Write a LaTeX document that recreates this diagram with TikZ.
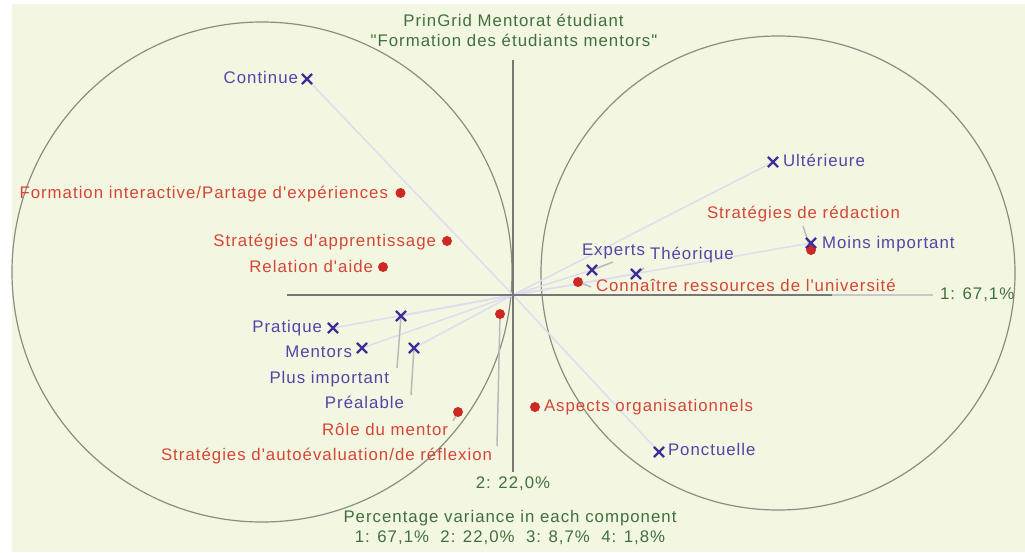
\documentclass[tikz,border=0pt]{standalone}
\usepackage{fontspec}
\newfontfamily\labf{Liberation Sans}[LetterSpace=6]
\usetikzlibrary{shapes.misc}
\definecolor{bg}{RGB}{243,246,225}
\definecolor{ink}{RGB}{64,112,64}
\definecolor{bluet}{RGB}{84,68,168}
\definecolor{bluem}{RGB}{62,48,150}
\definecolor{redt}{RGB}{212,70,54}
\definecolor{redm}{RGB}{205,40,35}
\definecolor{axisc}{RGB}{118,118,118}
\definecolor{axisl}{RGB}{200,200,200}
\definecolor{circc}{RGB}{140,140,134}
\definecolor{vecc}{RGB}{220,222,238}
\definecolor{leadc}{RGB}{185,185,185}
\begin{document}
\begin{tikzpicture}[x=1pt,y=-1pt,
  txt/.style={inner sep=0pt, outer sep=0pt, font=\labf\fontsize{16.8}{18}\selectfont},
  bl/.style={txt, text=bluet},
  rd/.style={txt, text=redt},
  gr/.style={txt, text=ink},
  xm/.style={draw=bluem, cross out, line width=2.2pt, minimum size=8pt, inner sep=0pt},
  dm/.style={circle, fill=redm, minimum size=10pt, inner sep=0pt},
  vec/.style={draw=vecc, line width=1.5pt},
  lead/.style={draw=leadc, line width=1.5pt},
  axisd/.style={draw=axisc, line width=2pt},
  axisx/.style={draw=axisl, line width=2pt},
  circ/.style={draw=circc, line width=1.2pt}]
\useasboundingbox (0,0) rectangle (1025,552);
\fill[white] (0,0) rectangle (1025,552);
\fill[bg] (12,4) rectangle (1025,552);
% circles
\draw[circ] (262,272) circle[radius=250pt];
\draw[circ] (778,273) circle[radius=237pt];
% positions
\coordinate (O) at (513,295);
\coordinate (cont) at (307,79);
\coordinate (ult) at (773,162);
\coordinate (moins) at (811,243);
\coordinate (exp) at (592,270);
\coordinate (theo) at (636,274);
\coordinate (prat) at (333,328);
\coordinate (ment) at (362,348);
\coordinate (plus) at (401,316);
\coordinate (prea) at (414,348);
\coordinate (ponc) at (659,452);
\coordinate (form) at (400.5,193);
\coordinate (sapp) at (447,241);
\coordinate (rel) at (383,267);
\coordinate (sred) at (811,250);
\coordinate (conn) at (578,282);
\coordinate (saut) at (500,314);
\coordinate (role) at (458,412);
\coordinate (asp) at (535,407);
% construct vectors
\foreach \p in {cont,ult,moins,exp,theo,prat,ment,plus,prea,ponc}
  \draw[vec] (O) -- (\p);
% axes
\coordinate (hL) at (287,295);
\coordinate (hR) at (832,295);
\coordinate (hE) at (933,295);
\coordinate (vT) at (513,60);
\coordinate (vB) at (513,472);
\draw[axisx] (hR) -- (hE);
\draw[axisd] (hL) -- (hR);
\draw[axisd] (vT) -- (vB);
% leaders
\coordinate (sredL) at (803,226);
\coordinate (expL) at (613,262);
\coordinate (theoL) at (644,268);
\coordinate (connL) at (591,287);
\coordinate (plusL) at (397,368);
\coordinate (preaL) at (411,395);
\coordinate (roleL) at (453,421);
\coordinate (sautL) at (497,446);
\draw[lead] (sredL) -- (sred);
\draw[lead] (expL) -- (exp);
\draw[lead] (theoL) -- (theo);
\draw[lead] (connL) -- (conn);
\draw[lead] (plusL) -- (plus);
\draw[lead] (preaL) -- (prea);
\draw[lead] (roleL) -- (role);
\draw[lead] (sautL) -- (saut);
% markers
\foreach \p in {form,sapp,rel,sred,conn,saut,role,asp}
  \node[dm] (m-\p) at (\p) {};
\foreach \p in {cont,ult,moins,exp,theo,prat,ment,plus,prea,ponc}
  \node[xm] (m-\p) at (\p) {};
% titles
\node[gr, anchor=base] (t1) at (513.5,26) {PrinGrid Mentorat étudiant};
\node[gr, anchor=base] (t2) at (514,46) {"Formation des étudiants mentors"};
\node[gr, anchor=base west] (ax1) at (940,299) {1: 67,1\%};
\node[gr, anchor=base] (ax2) at (513,488) {2: 22,0\%};
\node[gr, anchor=base] (pv1) at (510,522) {Percentage variance in each component};
\node[gr, anchor=base] (pv2) at (510,542) {1: 67,1\%\ \ 2: 22,0\%\ \ 3: 8,7\%\ \ 4: 1,8\%};
% construct labels
\node[bl, anchor=base east] (l-cont) at (298,83) {Continue};
\node[bl, anchor=base west] (l-ult) at (783,166) {Ultérieure};
\node[bl, anchor=base west] (l-moins) at (822,248) {Moins important};
\node[bl, anchor=base west] (l-exp) at (582,255) {Experts};
\node[bl, anchor=base west] (l-theo) at (650,259) {Théorique};
\node[bl, anchor=base east] (l-prat) at (322,332) {Pratique};
\node[bl, anchor=base east] (l-ment) at (352,357) {Mentors};
\node[bl, anchor=base east] (l-plus) at (389,383) {Plus important};
\node[bl, anchor=base east] (l-prea) at (404,408) {Préalable};
\node[bl, anchor=base west] (l-ponc) at (668,455) {Ponctuelle};
% element labels
\node[rd, anchor=base east] (l-form) at (388,198) {Formation interactive/Partage d'expériences};
\node[rd, anchor=base east] (l-sapp) at (436,246) {Stratégies d'apprentissage};
\node[rd, anchor=base east] (l-rel) at (373,272) {Relation d'aide};
\node[rd, anchor=base west] (l-sred) at (707,218) {Stratégies de rédaction};
\node[rd, anchor=base west] (l-conn) at (596,291) {Connaître ressources de l'université};
\node[rd, anchor=base east] (l-saut) at (492,460) {Stratégies d'autoévaluation/de réflexion};
\node[rd, anchor=base east] (l-role) at (448,435) {Rôle du mentor};
\node[rd, anchor=base west] (l-asp) at (544,411) {Aspects organisationnels};
\end{tikzpicture}
\end{document}
